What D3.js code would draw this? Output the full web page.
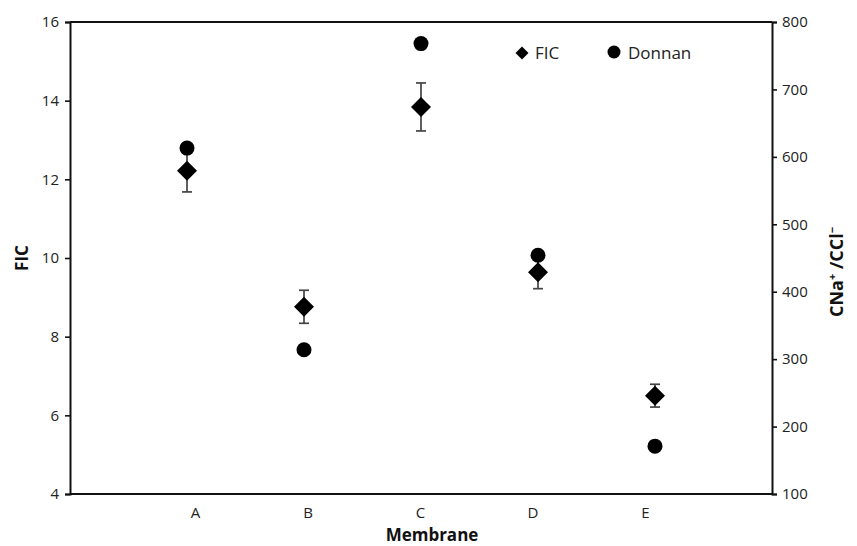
<!DOCTYPE html>
<html><head><meta charset="utf-8">
<script src="https://cdn.jsdelivr.net/npm/d3@7"></script>
<style>body{margin:0;background:#fff}svg{display:block}text{font-family:"Open Sans",sans-serif}</style>
</head><body><svg id="c" width="857" height="546"></svg>
<script>
const categories = ["A","B","C","D","E"];
const ficValues = [12.22, 8.76, 13.84, 9.64, 6.5];
const ficErrors = [0.54, 0.42, 0.61, 0.42, 0.29];
const donnanValues = [613, 314, 768, 454, 171];
const leftTicks = [4,6,8,10,12,14,16];
const rightTicks = [100,200,300,400,500,600,700,800];

const svg = d3.select("#c");
const L = 70, R = 772, T = 22, B = 494;
const x = d3.scaleLinear().domain([0, 6]).range([L, R]);
const xLabel = d3.scalePoint().domain(categories).range([195, 645]);
const yL = d3.scaleLinear().domain([4, 16]).range([B, T]);
const yR = d3.scaleLinear().domain([100, 800]).range([B, T]);

// frame
svg.append("line").attr("x1",L).attr("x2",R).attr("y1",T).attr("y2",T).attr("stroke","#111").attr("stroke-width",2);
svg.append("line").attr("x1",L).attr("x2",R).attr("y1",B).attr("y2",B).attr("stroke","#111").attr("stroke-width",2);

const gl = svg.append("g").attr("transform",`translate(${L},0)`)
  .call(d3.axisLeft(yL).tickValues(leftTicks).tickSize(5).tickPadding(6));
const gr = svg.append("g").attr("transform",`translate(${R},0)`)
  .call(d3.axisRight(yR).tickValues(rightTicks).tickSize(5).tickPadding(5));
[gl, gr].forEach(g => {
  g.select(".domain").attr("stroke","#111").attr("stroke-width",2);
  g.selectAll(".tick line").attr("stroke","#111").attr("stroke-width",1.6);
  g.selectAll(".tick text").attr("font-size",15).attr("fill","#222").attr("font-family","Open Sans, sans-serif");
});
const gx = svg.append("g").attr("transform",`translate(0,${B})`)
  .call(d3.axisBottom(xLabel).tickSize(0).tickPadding(13));
gx.select(".domain").remove();
gx.selectAll(".tick text").attr("font-size",15).attr("fill","#222").attr("font-family","Open Sans, sans-serif");

// axis titles
svg.append("text").attr("x",432).attr("y",541).attr("text-anchor","middle")
  .attr("font-size",17).attr("font-weight","bold").attr("fill","#111").text("Membrane");
svg.append("text").attr("transform","translate(28,258) rotate(-90)").attr("text-anchor","middle")
  .attr("font-size",17).attr("font-weight","bold").attr("fill","#111").text("FIC");
const rt = svg.append("text").attr("transform","translate(843,272) rotate(-90)").attr("text-anchor","middle")
  .attr("font-size",18).attr("font-weight","bold").attr("fill","#111");
rt.append("tspan").text("CNa");
rt.append("tspan").attr("dy",-7).attr("font-size",11).text("+");
rt.append("tspan").attr("dy",7).text(" /CCl");
rt.append("tspan").attr("dy",-7).attr("font-size",11).text("−");

const data = categories.map((c,i)=>({c, i, f: ficValues[i], e: ficErrors[i], d: donnanValues[i]}));

// error bars
const eb = svg.append("g").attr("stroke","#444").attr("stroke-width",1.7);
data.forEach(p => {
  const cx = x(p.i + 1);
  eb.append("line").attr("x1",cx).attr("x2",cx).attr("y1",yL(p.f + p.e)).attr("y2",yL(p.f - p.e));
  eb.append("line").attr("x1",cx-5).attr("x2",cx+5).attr("y1",yL(p.f + p.e)).attr("y2",yL(p.f + p.e));
  eb.append("line").attr("x1",cx-5).attr("x2",cx+5).attr("y1",yL(p.f - p.e)).attr("y2",yL(p.f - p.e));
});

const diamond = d3.symbol().type(d3.symbolSquare).size(200);
svg.append("g").selectAll("path").data(data).join("path")
  .attr("d", diamond)
  .attr("transform", p => `translate(${x(p.i+1)},${yL(p.f)}) rotate(45)`)
  .attr("fill","#000");
svg.append("g").selectAll("circle").data(data).join("circle")
  .attr("cx", p => x(p.i+1)).attr("cy", p => yR(p.d)).attr("r",7.5).attr("fill","#000");

// legend
const lg = svg.append("g");
lg.append("path").attr("d", d3.symbol().type(d3.symbolSquare).size(85)())
  .attr("transform","translate(522,53) rotate(45)").attr("fill","#000");
lg.append("text").attr("x",535).attr("y",59).attr("font-size",17).attr("fill","#222").text("FIC");
lg.append("circle").attr("cx",614).attr("cy",52).attr("r",6.5).attr("fill","#000");
lg.append("text").attr("x",628).attr("y",59).attr("font-size",17).attr("fill","#222").text("Donnan");
</script></body></html>
